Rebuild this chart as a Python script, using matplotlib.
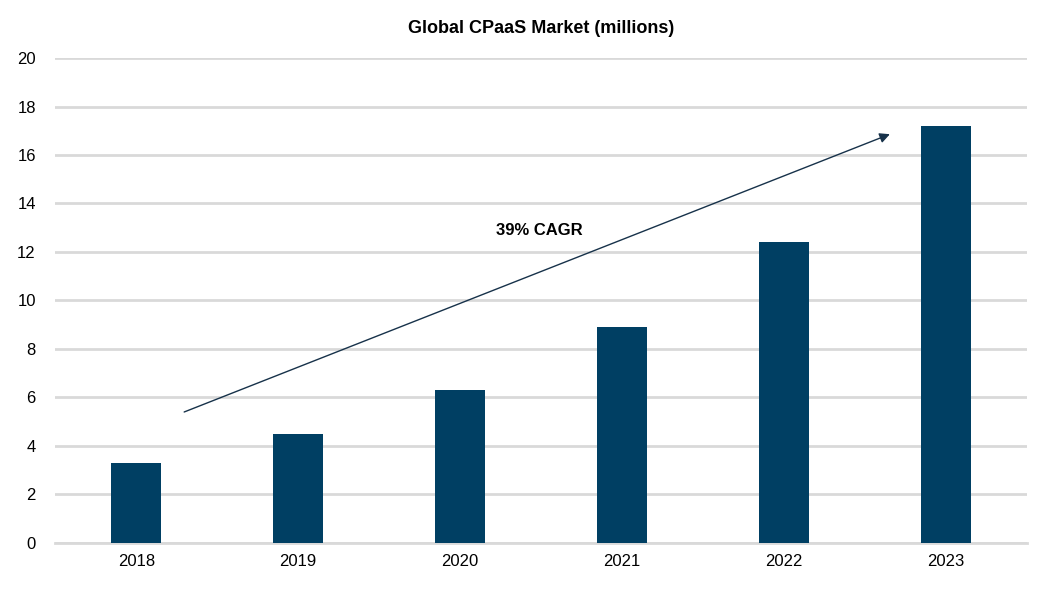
import matplotlib.pyplot as plt
import numpy as np

years = ['2018', '2019', '2020', '2021', '2022', '2023']
market = [3.3, 4.5, 6.3, 8.9, 12.4, 17.2]

plt.rcParams['font.family'] = ['Liberation Sans', 'DejaVu Sans']

fig = plt.figure(figsize=(10.63, 5.98), dpi=100)
ax = fig.add_axes([0.052, 0.092, 0.914, 0.811])

x = np.arange(len(years))
ax.bar(x, market, width=0.31, color='#003f63', zorder=3)

# Trend arrow
ax.annotate('', xy=(4.67, 16.9), xytext=(0.28, 5.36),
            arrowprops=dict(arrowstyle='-|>', color='#17324a', lw=1, mutation_scale=15),
            zorder=4)
ax.text(2.49, 12.9, '39% CAGR', fontsize=12, fontweight='bold', ha='center', va='center')

ax.set_title('Global CPaaS Market (millions)', fontsize=13, fontweight='bold', pad=18)
ax.set_xticks(x)
ax.set_xticklabels(years, fontsize=12)
ax.set_ylim(0, 20)
ax.set_yticks(range(0, 21, 2))
ax.tick_params(axis='y', labelsize=12, length=0, pad=14)
ax.tick_params(axis='x', length=0, pad=8)
ax.set_xlim(-0.5, 5.5)
ax.grid(True, axis='y', color='#d9d9d9', lw=2, zorder=0)
for s in ['top', 'right', 'left']:
    ax.spines[s].set_visible(False)
ax.spines['bottom'].set_color('#d9d9d9')
ax.spines['bottom'].set_linewidth(2)

plt.savefig('out.png', dpi=100)
